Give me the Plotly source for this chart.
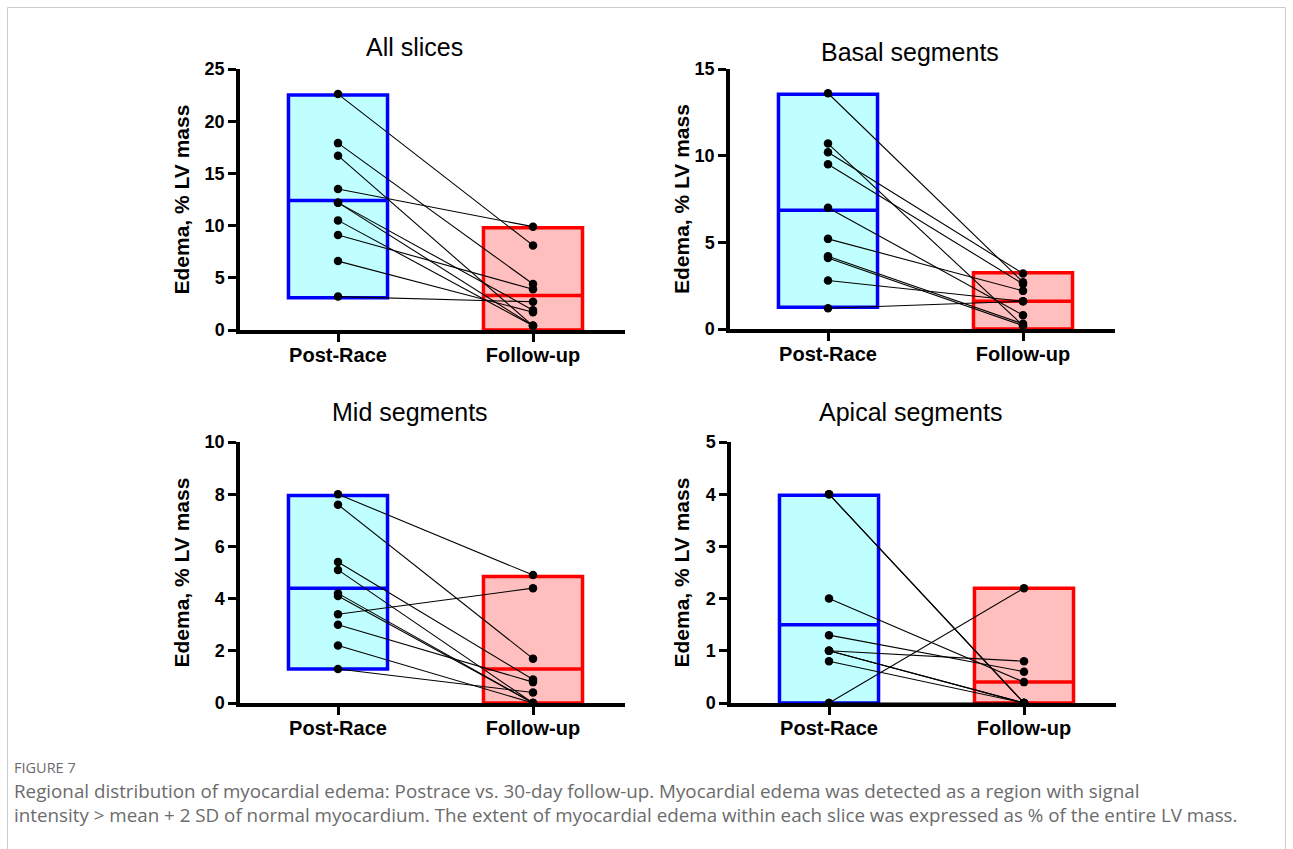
import plotly.graph_objects as go

W, H = 1293, 849

categories = ["Post-Race", "Follow-up"]

# ---- data ----
all_post = [22.6, 17.9, 16.7, 13.5, 12.2, 12.2, 10.5, 9.1, 6.6, 3.2]
all_follow = [8.1, 4.4, 0.4, 9.9, 1.9, 0.4, 0.4, 3.9, 1.7, 2.7]
all_box_low = [3.1, 0.0]
all_box_high = [22.5, 9.8]
all_box_mean = [12.4, 3.3]

basal_post = [13.6, 10.7, 10.2, 9.5, 7.0, 5.2, 4.2, 4.1, 2.8, 1.2]
basal_follow = [2.7, 0.2, 3.2, 2.6, 0.8, 2.2, 0.3, 0.2, 1.6, 1.6]
basal_box_low = [1.25, 0.0]
basal_box_high = [13.55, 3.25]
basal_box_mean = [6.85, 1.6]

mid_post = [8.0, 7.6, 5.4, 5.1, 4.2, 4.1, 3.4, 3.0, 2.2, 1.3]
mid_follow = [4.9, 1.7, 0.9, 0.0, 0.0, 0.0, 4.4, 0.8, 0.0, 0.4]
mid_box_low = [1.3, 0.0]
mid_box_high = [7.95, 4.85]
mid_box_mean = [4.4, 1.3]

apical_post = [4.0, 4.0, 2.0, 1.3, 1.0, 1.0, 1.0, 0.8, 0.0, 0.0]
apical_follow = [0.0, 0.0, 0.4, 0.6, 0.8, 0.0, 0.0, 0.0, 2.2, 0.0]
apical_box_low = [0.0, 0.0]
apical_box_high = [3.98, 2.2]
apical_box_mean = [1.5, 0.4]

titles = ["All slices", "Basal segments", "Mid segments", "Apical segments"]
y_max = [25, 15, 10, 5]
y_dtick = [5, 5, 2, 1]

panels = [
    (all_post, all_follow, all_box_low, all_box_high, all_box_mean),
    (basal_post, basal_follow, basal_box_low, basal_box_high, basal_box_mean),
    (mid_post, mid_follow, mid_box_low, mid_box_high, mid_box_mean),
    (apical_post, apical_follow, apical_box_low, apical_box_high, apical_box_mean),
]

y_title = "Edema, % LV mass"
caption_head = "FIGURE 7"
caption_lines = [
    "Regional distribution of myocardial edema: Postrace vs. 30-day follow-up. Myocardial edema was detected as a region with signal",
    "intensity > mean + 2 SD of normal myocardium. The extent of myocardial edema within each slice was expressed as % of the entire LV mass.",
]

# ---- layout geometry (pixels) ----
geom = [
    (240, 625, 330, 69),
    (730, 1115, 329, 69),
    (240, 625, 703, 442),
    (731, 1116, 703, 442),
]
title_pos = [(414, 47), (910, 52), (410, 412), (910, 412)]
ytitle_x = [181, 681, 181, 681]

fill_cols = ["rgba(192,255,255,1)", "rgba(255,191,191,1)"]
line_cols = ["#0000FF", "#FF0000"]
FONT = "Liberation Sans, Arial, sans-serif"

def px_x(p):
    return p / W

def px_y(p):
    return 1 - p / H

fig = go.Figure()
layout = dict(
    width=W, height=H, autosize=False,
    margin=dict(l=0, r=0, t=0, b=0, pad=0),
    paper_bgcolor="white", plot_bgcolor="rgba(0,0,0,0)",
    showlegend=False, annotations=[], shapes=[],
    font=dict(family=FONT, color="black"),
)

cat_px = 195.0
half_box = 0.254

for i, (post, follow, blo, bhi, bmean) in enumerate(panels):
    n = "" if i == 0 else str(i + 1)
    xa, ya = "x" + n, "y" + n
    x0, x1, yz, yt = geom[i]
    xmin = -(98.0) / cat_px
    xmax = xmin + (x1 - x0) / cat_px

    fig.add_trace(go.Bar(
        x=[0, 1], y=[h - l for h, l in zip(bhi, blo)], base=blo,
        width=2 * half_box,
        marker=dict(color=fill_cols, line=dict(color=line_cols, width=3.5)),
        xaxis=xa, yaxis=ya, hoverinfo="skip",
    ))
    for k in range(2):
        fig.add_trace(go.Scatter(
            x=[k - half_box, k + half_box], y=[bmean[k], bmean[k]],
            mode="lines", line=dict(color=line_cols[k], width=3.5),
            xaxis=xa, yaxis=ya, hoverinfo="skip",
        ))
    xs, ys = [], []
    for a, b in zip(post, follow):
        xs += [0, 1, None]
        ys += [a, b, None]
    fig.add_trace(go.Scatter(
        x=xs, y=ys, mode="lines+markers",
        line=dict(color="black", width=1.1),
        marker=dict(color="black", size=8.5),
        cliponaxis=False, xaxis=xa, yaxis=ya,
    ))

    layout["xaxis" + n] = dict(
        domain=[px_x(x0), px_x(x1)], range=[xmin, xmax], anchor=ya,
        tickvals=[0, 1], ticktext=categories,
        showline=True, linecolor="black", linewidth=3.5,
        ticks="outside", ticklen=8, tickwidth=3, tickcolor="black",
        ticklabelstandoff=-4,
        tickfont=dict(family=FONT, size=20, color="black", weight="bold"),
        showgrid=False, zeroline=False, fixedrange=True, automargin=False,
    )
    layout["yaxis" + n] = dict(
        domain=[px_y(yz), px_y(yt)], range=[0, y_max[i]], anchor=xa,
        dtick=y_dtick[i], tick0=0,
        showline=True, linecolor="black", linewidth=3.5,
        ticks="outside", ticklen=8, tickwidth=3, tickcolor="black",
        tickfont=dict(family=FONT, size=18, color="black", weight="bold"),
        showgrid=False, zeroline=False, fixedrange=True, automargin=False,
    )
    tx, ty = title_pos[i]
    layout["annotations"].append(dict(
        text=titles[i], x=px_x(tx), y=px_y(ty), xref="paper", yref="paper",
        xanchor="center", yanchor="middle", showarrow=False,
        font=dict(family=FONT, size=25, color="black"),
    ))
    layout["annotations"].append(dict(
        text=y_title, x=px_x(ytitle_x[i]), y=px_y((yz + yt) / 2),
        xref="paper", yref="paper", xanchor="center", yanchor="middle",
        textangle=-90, showarrow=False,
        font=dict(family=FONT, size=21, color="black", weight="bold"),
    ))

CAP_FONT = "Open Sans, Noto Sans, sans-serif"
layout["annotations"].append(dict(
    text=caption_head, x=px_x(12), y=px_y(767), xref="paper", yref="paper",
    xanchor="left", yanchor="middle", showarrow=False,
    font=dict(family=CAP_FONT, size=14.5, color="#6b6b6b"),
))
for j, line in enumerate(caption_lines):
    layout["annotations"].append(dict(
        text=line, x=px_x(12), y=px_y(791 + 24 * j), xref="paper", yref="paper",
        xanchor="left", yanchor="middle", showarrow=False,
        font=dict(family=CAP_FONT, size=18.8, color="#6b6b6b"),
    ))

layout["shapes"].append(dict(
    type="rect", xref="paper", yref="paper",
    x0=px_x(7.5), x1=px_x(1285.5), y0=px_y(880), y1=px_y(7.5),
    line=dict(color="#cccccc", width=1), fillcolor="rgba(0,0,0,0)", layer="below",
))

fig.update_layout(**layout)
fig.write_html(
    "out.html",
    config={"responsive": False, "displayModeBar": False},
    post_script="document.body.style.margin='0';document.body.style.overflow='hidden';",
)
